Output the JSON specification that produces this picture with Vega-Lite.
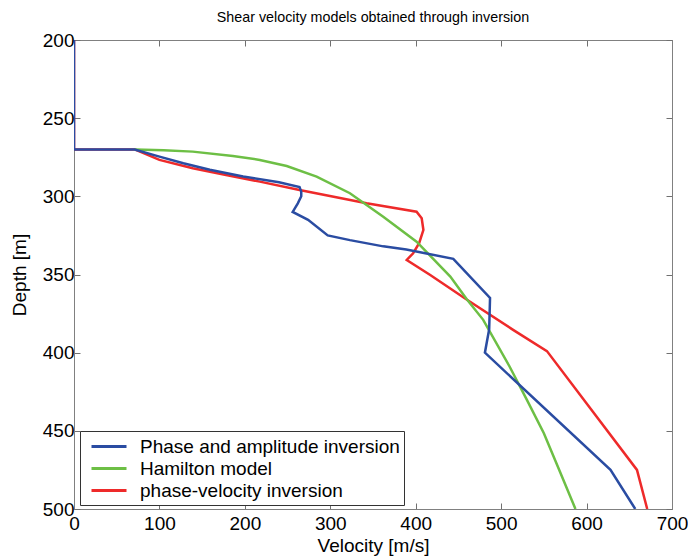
{
  "$schema": "https://vega.github.io/schema/vega-lite/v6.json",
  "autosize": "none",
  "width": 598,
  "height": 469,
  "padding": {"left": 74, "top": 40, "right": 16, "bottom": 51},
  "background": "white",
  "title": {"text": "Shear velocity models obtained through inversion", "font": "Liberation Sans", "fontSize": 14.3, "fontWeight": "normal", "color": "black", "offset": 6},
  "config": {
    "view": {"stroke": "#808080", "strokeWidth": 1},
    "axis": {"labelFont": "Liberation Sans", "labelFontSize": 19, "labelColor": "black", "labelFlush": false, "labelOverlap": false, "titleFont": "Liberation Sans", "titleFontSize": 19, "titleFontWeight": "normal", "titleColor": "black", "grid": false, "domainColor": "#808080", "tickColor": "#707070", "tickSize": -6, "labelPadding": 5},
    "legend": {"labelFont": "Liberation Sans", "labelFontSize": 19, "labelColor": "black"}
  },
  "data": {"values": [
    {"s": "phase-velocity inversion", "i": 1, "v": 0, "d": 200},
    {"s": "phase-velocity inversion", "i": 2, "v": 0, "d": 270},
    {"s": "phase-velocity inversion", "i": 3, "v": 71, "d": 270},
    {"s": "phase-velocity inversion", "i": 4, "v": 100, "d": 276.7},
    {"s": "phase-velocity inversion", "i": 5, "v": 139, "d": 282},
    {"s": "phase-velocity inversion", "i": 6, "v": 178, "d": 286.3},
    {"s": "phase-velocity inversion", "i": 7, "v": 217.5, "d": 290.6},
    {"s": "phase-velocity inversion", "i": 8, "v": 264, "d": 296},
    {"s": "phase-velocity inversion", "i": 9, "v": 342.5, "d": 304.4},
    {"s": "phase-velocity inversion", "i": 10, "v": 401, "d": 309.8},
    {"s": "phase-velocity inversion", "i": 11, "v": 407, "d": 314},
    {"s": "phase-velocity inversion", "i": 12, "v": 409, "d": 321.5},
    {"s": "phase-velocity inversion", "i": 13, "v": 404, "d": 330},
    {"s": "phase-velocity inversion", "i": 14, "v": 397, "d": 336.4},
    {"s": "phase-velocity inversion", "i": 15, "v": 389.5, "d": 340.7},
    {"s": "phase-velocity inversion", "i": 16, "v": 417, "d": 350.3},
    {"s": "phase-velocity inversion", "i": 17, "v": 460, "d": 366.2},
    {"s": "phase-velocity inversion", "i": 18, "v": 514, "d": 385.4},
    {"s": "phase-velocity inversion", "i": 19, "v": 553.6, "d": 399},
    {"s": "phase-velocity inversion", "i": 20, "v": 659, "d": 475},
    {"s": "phase-velocity inversion", "i": 21, "v": 671, "d": 500},
    {"s": "Hamilton model", "i": 1, "v": 71, "d": 270},
    {"s": "Hamilton model", "i": 2, "v": 105, "d": 270.5},
    {"s": "Hamilton model", "i": 3, "v": 139, "d": 271.4},
    {"s": "Hamilton model", "i": 4, "v": 186, "d": 274.2},
    {"s": "Hamilton model", "i": 5, "v": 217.5, "d": 276.7},
    {"s": "Hamilton model", "i": 6, "v": 249, "d": 280.6},
    {"s": "Hamilton model", "i": 7, "v": 284, "d": 287.4},
    {"s": "Hamilton model", "i": 8, "v": 323, "d": 298},
    {"s": "Hamilton model", "i": 9, "v": 362, "d": 313},
    {"s": "Hamilton model", "i": 10, "v": 401, "d": 329},
    {"s": "Hamilton model", "i": 11, "v": 440.5, "d": 351.3},
    {"s": "Hamilton model", "i": 12, "v": 460, "d": 366},
    {"s": "Hamilton model", "i": 13, "v": 479, "d": 379},
    {"s": "Hamilton model", "i": 14, "v": 510, "d": 409},
    {"s": "Hamilton model", "i": 15, "v": 530, "d": 430},
    {"s": "Hamilton model", "i": 16, "v": 550, "d": 451.5},
    {"s": "Hamilton model", "i": 17, "v": 568, "d": 475},
    {"s": "Hamilton model", "i": 18, "v": 587, "d": 500},
    {"s": "Phase and amplitude inversion", "i": 1, "v": 0, "d": 200},
    {"s": "Phase and amplitude inversion", "i": 2, "v": 0, "d": 270},
    {"s": "Phase and amplitude inversion", "i": 3, "v": 71, "d": 270},
    {"s": "Phase and amplitude inversion", "i": 4, "v": 100, "d": 274.6},
    {"s": "Phase and amplitude inversion", "i": 5, "v": 128, "d": 278.8},
    {"s": "Phase and amplitude inversion", "i": 6, "v": 159, "d": 283},
    {"s": "Phase and amplitude inversion", "i": 7, "v": 198, "d": 287.3},
    {"s": "Phase and amplitude inversion", "i": 8, "v": 240, "d": 291},
    {"s": "Phase and amplitude inversion", "i": 9, "v": 264, "d": 294},
    {"s": "Phase and amplitude inversion", "i": 10, "v": 266, "d": 297},
    {"s": "Phase and amplitude inversion", "i": 11, "v": 266, "d": 300},
    {"s": "Phase and amplitude inversion", "i": 12, "v": 262, "d": 304.5},
    {"s": "Phase and amplitude inversion", "i": 13, "v": 256, "d": 310},
    {"s": "Phase and amplitude inversion", "i": 14, "v": 274, "d": 315},
    {"s": "Phase and amplitude inversion", "i": 15, "v": 297, "d": 325},
    {"s": "Phase and amplitude inversion", "i": 16, "v": 323, "d": 328},
    {"s": "Phase and amplitude inversion", "i": 17, "v": 362, "d": 332},
    {"s": "Phase and amplitude inversion", "i": 18, "v": 389, "d": 334},
    {"s": "Phase and amplitude inversion", "i": 19, "v": 444, "d": 340},
    {"s": "Phase and amplitude inversion", "i": 20, "v": 487, "d": 365},
    {"s": "Phase and amplitude inversion", "i": 21, "v": 486, "d": 385},
    {"s": "Phase and amplitude inversion", "i": 22, "v": 481, "d": 400},
    {"s": "Phase and amplitude inversion", "i": 23, "v": 628, "d": 475},
    {"s": "Phase and amplitude inversion", "i": 24, "v": 657, "d": 500}
  ]},
  "layer": [
    {
      "mark": {"type": "line", "strokeWidth": 2.5, "clip": true},
      "encoding": {
        "x": {"field": "v", "type": "quantitative", "scale": {"domain": [0, 700], "nice": false}, "axis": {"title": "Velocity [m/s]", "values": [0, 100, 200, 300, 400, 500, 600, 700], "labelPadding": 11, "titlePadding": 3}},
        "y": {"field": "d", "type": "quantitative", "scale": {"domain": [200, 500], "reverse": true, "nice": false, "zero": false}, "axis": {"title": "Depth [m]", "values": [200, 250, 300, 350, 400, 450, 500], "labelPadding": 6, "titlePadding": 13}},
        "order": {"field": "i", "type": "quantitative"},
        "color": {"field": "s", "type": "nominal", "scale": {"domain": ["Phase and amplitude inversion", "Hamilton model", "phase-velocity inversion"], "range": ["#2a4ca2", "#6dbf45", "#ee2a2a"]},
          "legend": {"title": null, "orient": "none", "legendX": 6, "legendY": 391, "symbolType": "M-1.75,0H1.75", "symbolSize": 400, "symbolStrokeWidth": 3, "symbolOffset": 13.5, "labelOffset": 19.5, "rowPadding": 0, "padding": 4, "strokeColor": "#333333", "fillColor": "white", "labelLimit": 400}}
      }
    },
    {
      "mark": {"type": "line", "strokeOpacity": 0},
      "encoding": {
        "x": {"field": "v", "type": "quantitative", "axis": {"orient": "top", "labels": false, "title": null, "values": [0, 100, 200, 300, 400, 500, 600, 700]}},
        "y": {"field": "d", "type": "quantitative", "axis": {"orient": "right", "labels": false, "title": null, "values": [200, 250, 300, 350, 400, 450, 500]}},
        "detail": {"field": "s"},
        "order": {"field": "i", "type": "quantitative"}
      }
    }
  ],
  "resolve": {"axis": {"x": "independent", "y": "independent"}}
}
